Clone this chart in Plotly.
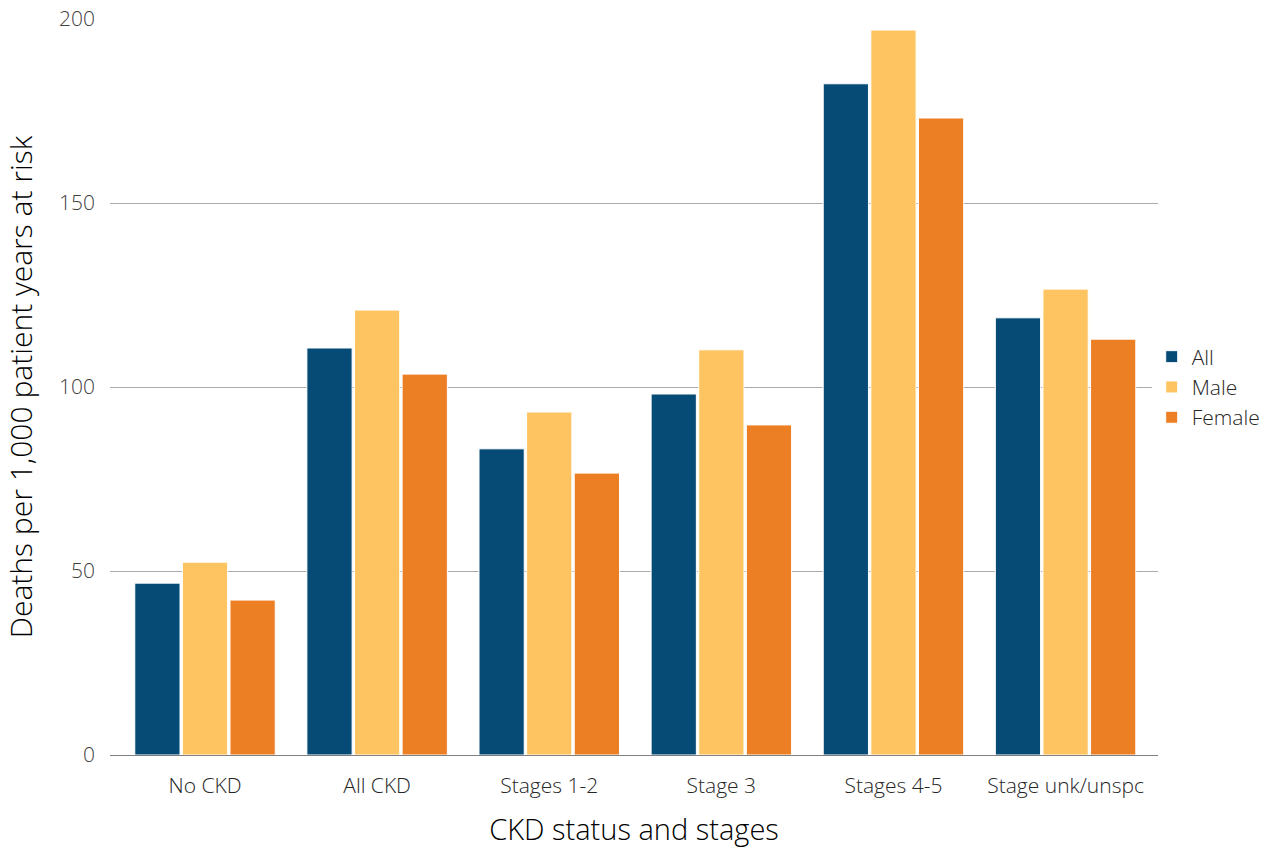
import plotly.graph_objects as go

categories = ["No CKD", "All CKD", "Stages 1-2", "Stage 3", "Stages 4-5", "Stage unk/unspc"]
all_rates = [46.7, 110.6, 83.2, 98.1, 182.4, 118.8]
male_rates = [52.4, 120.9, 93.2, 110.1, 197.0, 126.6]
female_rates = [42.1, 103.5, 76.6, 89.7, 173.1, 113.0]

series = [
    ("All", all_rates, "#064A76"),
    ("Male", male_rates, "#FDC461"),
    ("Female", female_rates, "#EC7E24"),
]

FONT = "Open Sans"

fig = go.Figure()
for name, vals, color in series:
    fig.add_trace(go.Bar(
        name=name, x=categories, y=vals,
        marker=dict(color=color, line=dict(color="white", width=1)),
    ))

fig.update_layout(
    width=1267, height=848,
    paper_bgcolor="white", plot_bgcolor="white",
    margin=dict(l=110, r=109, t=19, b=93, autoexpand=False),
    barmode="group", bargap=0.17, bargroupgap=0.05,
    font=dict(family=FONT, color="#262626", size=21, weight=300),
    legend=dict(
        x=0.994, y=0.5, xanchor="left", yanchor="middle",
        font=dict(size=21, color="#262626", weight=300),
        itemwidth=30, tracegroupgap=6,
    ),
    xaxis=dict(
        title=dict(text="CKD status and stages", font=dict(size=29, color="#000000", weight=300), standoff=22),
        tickfont=dict(size=21, color="#262626", weight=300),
        range=[-0.552, 5.537],
        showline=True, linecolor="#808080", linewidth=1,
        ticks="", showgrid=False, automargin=False,
        ticklabelstandoff=12,
    ),
    yaxis=dict(
        title=dict(text="Deaths per 1,000 patient years at risk", font=dict(size=30, color="#000000", weight=300), standoff=18),
        range=[0, 200], tickvals=[0, 50, 100, 150, 200],
        tickfont=dict(size=21, color="#404040", weight=300),
        showgrid=True, gridcolor="#AEAAAA", gridwidth=1,
        zeroline=False, ticks="", ticklen=0,
        ticklabelstandoff=14, automargin=False,
    ),
)

fig.write_html("out.html")
